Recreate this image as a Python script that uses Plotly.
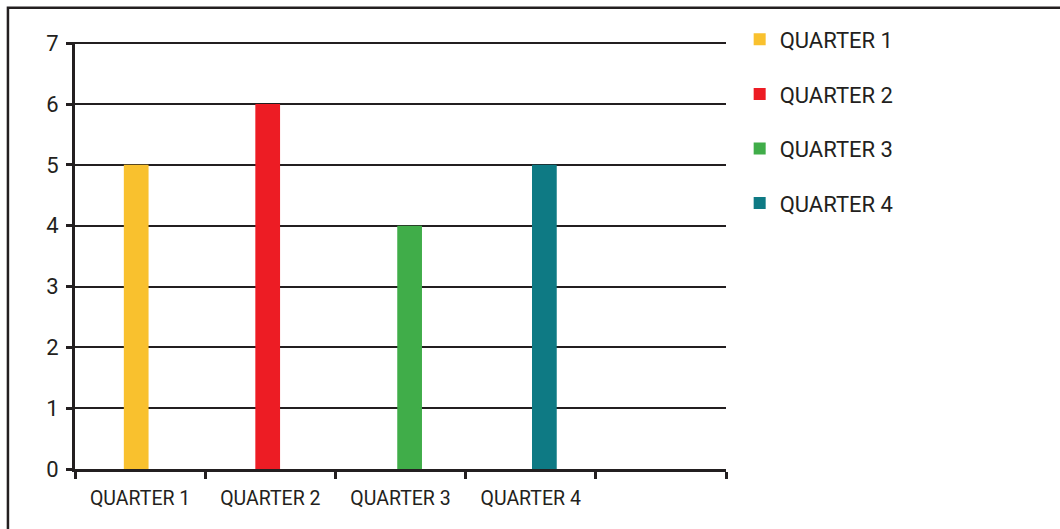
import plotly.graph_objects as go

quarters = ["QUARTER 1", "QUARTER 2", "QUARTER 3", "QUARTER 4"]
values = [5, 6, 4, 5]
colors = ["#F9C12E", "#ED1C24", "#40AD49", "#0E7A84"]
# an empty trailing slot on the category axis
slots = quarters + [" "]
y_ticks = [0, 1, 2, 3, 4, 5, 6, 7]

INK = "#231F20"
FONT = "Roboto, Arial, sans-serif"
BAR_W = 0.19
# small horizontal nudges of each bar within its slot (category units)
nudges = [-0.03, -0.02, 0.07, 0.105]

fig = go.Figure()
for i, (name, val, col) in enumerate(zip(quarters, values, colors)):
    fig.add_trace(go.Bar(
        x=[name], y=[val], name=name, marker=dict(color=col, line=dict(width=0)),
        width=BAR_W, offset=-BAR_W / 2 + nudges[i], legendgroup=f"g{i}",
    ))

fig.update_layout(
    width=1060, height=529,
    margin=dict(l=75, r=334, t=42, b=60),
    paper_bgcolor="white", plot_bgcolor="white",
    barmode="overlay",
    font=dict(family=FONT, color=INK),
    showlegend=True,
    legend=dict(
        x=1.021, xanchor="left", y=1.055, yanchor="top",
        traceorder="grouped", tracegroupgap=23,
        font=dict(size=22, family=FONT, color=INK),
        itemwidth=30, bgcolor="rgba(0,0,0,0)",
    ),
    xaxis=dict(
        type="category", categoryorder="array", categoryarray=slots,
        range=[-0.5, len(slots) - 0.5],
        tickson="boundaries", ticks="outside", ticklen=7, tickwidth=2.5, tickcolor=INK,
        showline=True, linecolor=INK, linewidth=3,
        showgrid=False, tickfont=dict(size=19.5, family=FONT, color=INK),
        ticklabelstandoff=10,
    ),
    yaxis=dict(
        range=[0, 7.02], tickvals=y_ticks, ticks="outside", ticklen=6, tickwidth=2.5,
        tickcolor=INK, showline=True, linecolor=INK, linewidth=3,
        showgrid=True, gridcolor=INK, gridwidth=2, zeroline=False,
        tickfont=dict(size=22, family=FONT, color=INK), ticklabelstandoff=3,
    ),
)

# outer frame of the graphic
fig.add_shape(type="rect", xref="paper", yref="paper",
              x0=-0.103, x1=1.52, y0=-0.16, y1=1.08,
              line=dict(color=INK, width=2.5), fillcolor="rgba(0,0,0,0)", layer="below")

fig.write_html("out.html")
